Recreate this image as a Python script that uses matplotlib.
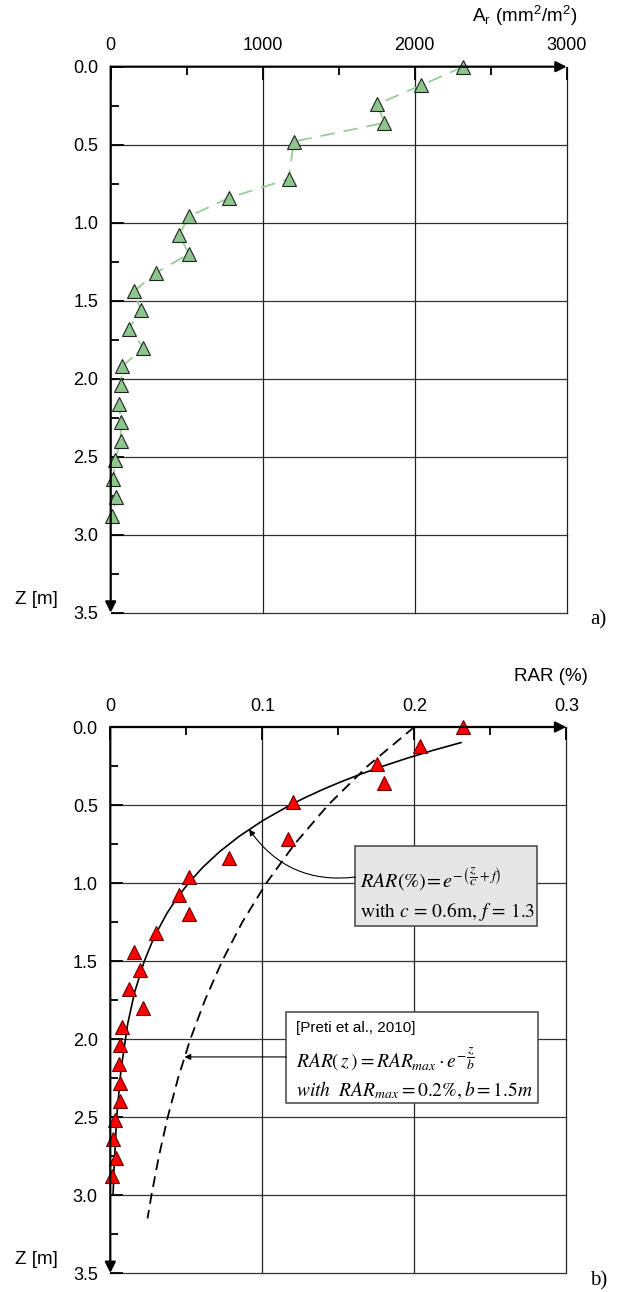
"""
Root area ratio vs depth - two stacked panels:
  a) measured root area A_r (mm2/m2) against depth
  b) same data as RAR (%), with the fitted exponential and the Preti et al. (2010) curve
"""

import numpy as np
import matplotlib
matplotlib.use("Agg")
import matplotlib.pyplot as plt
from matplotlib.patches import Rectangle
from matplotlib.ticker import MultipleLocator

plt.rcParams["font.family"] = ["Liberation Sans", "DejaVu Sans"]
plt.rcParams["mathtext.fontset"] = "stix"

W, H = 633, 1292

# --- data ---------------------------------------------------------------------

depth = [0.00, 0.12, 0.24, 0.36, 0.48, 0.72, 0.84, 0.96, 1.08, 1.20, 1.32, 1.44,
         1.56, 1.68, 1.80, 1.92, 2.04, 2.16, 2.28, 2.40, 2.52, 2.64, 2.76, 2.88]
area_r = [2320, 2040, 1755, 1800, 1205, 1170, 780, 515, 450, 515, 300, 153,
          197, 120, 215, 77, 66, 55, 66, 66, 28, 18, 37, 11]          # mm2/m2
rar = [a / 1e4 for a in area_r]                                      # mm2/m2 -> %

# fitted curve RAR = exp(-(z/c + f)), c=0.6 m, f=1.3
fit_z   = [0.10, 0.15, 0.20, 0.25, 0.30, 0.35, 0.40, 0.45, 0.50, 0.60, 0.70,
           0.80, 0.90, 1.00, 1.10, 1.20, 1.35, 1.50, 1.70, 1.90, 2.20, 2.50,
           2.80, 3.00]
fit_rar = [0.2307, 0.2122, 0.1953, 0.1797, 0.1653, 0.1521, 0.1399, 0.1287,
           0.1184, 0.1003, 0.0849, 0.0718, 0.0608, 0.0515, 0.0436, 0.0369,
           0.0287, 0.0224, 0.0160, 0.0115, 0.0070, 0.0042, 0.0026, 0.0018]

# Preti et al. 2010: RAR = 0.2 exp(-z/1.5)
preti_z   = [0.00, 0.25, 0.50, 0.75, 1.00, 1.25, 1.50, 1.75, 2.00, 2.25, 2.50,
             2.75, 3.00, 3.15]
preti_rar = [0.2000, 0.1693, 0.1433, 0.1213, 0.1027, 0.0869, 0.0736, 0.0623,
             0.0527, 0.0446, 0.0378, 0.0320, 0.0271, 0.0245]

z_ticks       = [0.0, 0.5, 1.0, 1.5, 2.0, 2.5, 3.0, 3.5]
z_labels      = ["0.0", "0.5", "1.0", "1.5", "2.0", "2.5", "3.0", "3.5"]
area_ticks    = [0, 1000, 2000, 3000]
area_labels   = ["0", "1000", "2000", "3000"]
rar_ticks     = [0.0, 0.1, 0.2, 0.3]
rar_labels    = ["0", "0.1", "0.2", "0.3"]


# --- helpers ------------------------------------------------------------------

def px_axes(fig, left, top, right, bottom):
    return fig.add_axes([left / W, 1 - bottom / H, (right - left) / W, (bottom - top) / H])


def depth_frame(ax, xticks, xlabels, xminor):
    xmax = xticks[-1]
    ax.set_xlim(0, xmax)
    ax.set_ylim(3.5, 0)
    for s in ax.spines.values():
        s.set_visible(False)
    ax.xaxis.tick_top()
    ax.set_xticks(xticks, xlabels)
    ax.set_yticks(z_ticks, z_labels)
    ax.xaxis.set_minor_locator(MultipleLocator(xminor))
    ax.yaxis.set_minor_locator(MultipleLocator(0.25))
    ax.tick_params(which="both", direction="in", width=1.3, labelsize=13, colors="black")
    ax.tick_params(which="major", length=9)
    ax.tick_params(which="minor", length=6)
    ax.tick_params(axis="x", pad=9)
    ax.tick_params(axis="y", pad=9)
    # grid: inner lines plus the closing right / bottom lines
    for x in xticks[1:]:
        ax.axvline(x, color="#222222", lw=0.9, zorder=1, clip_on=False)
    for z in z_ticks[1:]:
        ax.axhline(z, color="#333333", lw=0.9, zorder=1, clip_on=False)
    # axes with arrow heads
    arr = dict(arrowstyle="-|>", color="black", lw=1.6, mutation_scale=16,
               shrinkA=0, shrinkB=0)
    ax.annotate("", xy=(xmax, 0), xytext=(0, 0), arrowprops=arr,
                annotation_clip=False, zorder=6)
    ax.annotate("", xy=(0, 3.5), xytext=(0, 0), arrowprops=arr,
                annotation_clip=False, zorder=6)


fig = plt.figure(figsize=(W / 100, H / 100), dpi=100)

# --- a) A_r ----------------------------------------------------------------------
ax1 = px_axes(fig, 110.7, 66.7, 566.7, 612.7)
depth_frame(ax1, area_ticks, area_labels, 500)
ax1.plot(area_r, depth, ls=(0, (8, 5)), color="#99cc99", lw=1.3, zorder=3)
ax1.plot(area_r, depth, ls="none", marker="^", ms=10, mfc="#8dc68d",
         mec="#222222", mew=0.8, zorder=4, clip_on=False)

fig.text(578 / W, 1 - 16 / H, r"A$_\mathregular{r}$ (mm$^\mathregular{2}$/m$^\mathregular{2}$)",
         ha="right", va="center", fontsize=13.5)
fig.text(15 / W, 1 - 600 / H, "Z [m]", ha="left", va="center", fontsize=13.5)
fig.text(590 / W, 1 - 620 / H, "a)", ha="left", va="center", fontsize=15,
         family="Liberation Serif")

# --- b) RAR ----------------------------------------------------------------------
ax2 = px_axes(fig, 110.3, 727, 566.3, 1273)
depth_frame(ax2, rar_ticks, rar_labels, 0.05)
ax2.plot(fit_rar, fit_z, color="black", lw=1.2, zorder=3)
ax2.plot(preti_rar, preti_z, color="black", lw=1.3, ls=(0, (6, 3.5)), zorder=3)
ax2.plot(rar, depth, ls="none", marker="^", ms=10, mfc="#ff0000",
         mec="#6a0000", mew=0.8, zorder=4, clip_on=False)

# fitted-curve label box
ax2.add_patch(Rectangle((0.1612, 0.763), 0.281 - 0.1612, 1.276 - 0.763,
                        fc="#e6e6e6", ec="#444444", lw=1.1, zorder=5))
ax2.text(0.1640, 1.03, r"$RAR(\%)\!=e^{-\left(\dfrac{z}{c}+f\right)}$",
         fontsize=14.5, va="baseline", ha="left", zorder=6)
ax2.text(0.1640, 1.215, r"with $c\,=\,0.6$m, $f\,=\,$1.3",
         fontsize=14, va="baseline", ha="left", zorder=6, family="STIXGeneral")
ax2.annotate("", xy=(0.0913, 0.656), xytext=(0.1612, 0.962),
             arrowprops=dict(arrowstyle="-|>", color="black", lw=0.8,
                             mutation_scale=9, shrinkA=0, shrinkB=0,
                             connectionstyle="arc3,rad=-0.3"), zorder=5)

# Preti et al. box
ax2.add_patch(Rectangle((0.1158, 1.83), 0.2816 - 0.1158, 2.41 - 1.83,
                        fc="white", ec="#444444", lw=1.1, zorder=5))
ax2.text(0.1225, 1.955, "[Preti et al., 2010]", fontsize=11, va="baseline",
         ha="left", zorder=6)
ax2.text(0.1225, 2.18, r"$RAR(\,z\,) = RAR_{max}\cdot e^{-\dfrac{z}{b}}$",
         fontsize=14, va="baseline", ha="left", zorder=6)
ax2.text(0.1225, 2.37, r"$with\ \ RAR_{max} = 0.2\%, b = 1.5m$",
         fontsize=14, va="baseline", ha="left", zorder=6)
ax2.annotate("", xy=(0.0488, 2.115), xytext=(0.1158, 2.115),
             arrowprops=dict(arrowstyle="-|>", color="black", lw=0.8,
                             mutation_scale=9, shrinkA=0, shrinkB=0), zorder=5)

fig.text(588 / W, 1 - 676 / H, "RAR (%)", ha="right", va="center", fontsize=13.5)
fig.text(15 / W, 1 - 1260 / H, "Z [m]", ha="left", va="center", fontsize=13.5)
fig.text(590 / W, 1 - 1281 / H, "b)", ha="left", va="center", fontsize=15,
         family="Liberation Serif")

fig.savefig("out.png", dpi=100)
